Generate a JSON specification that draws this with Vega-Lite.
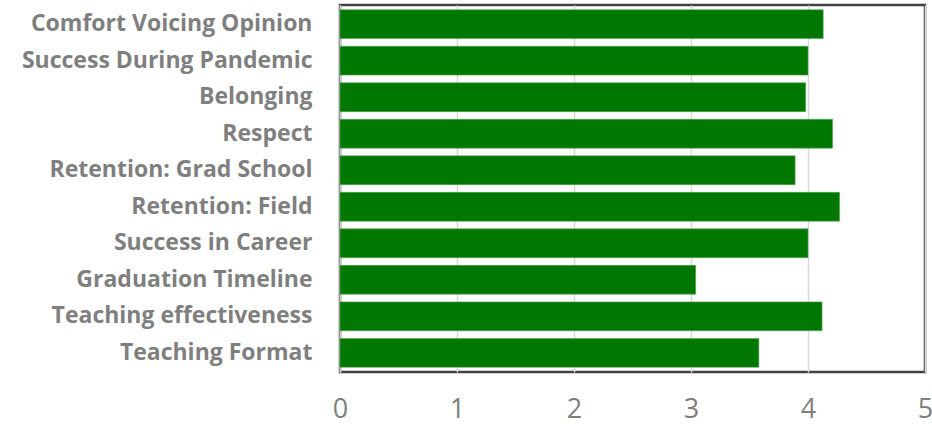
{
  "$schema": "https://vega.github.io/schema/vega-lite/v6.json",
  "autosize": {"type": "none"},
  "width": 585,
  "height": 367,
  "padding": {"left": 340, "top": 5, "right": 7, "bottom": 55},
  "background": "white",
  "config": {
    "view": {"stroke": "#404040", "strokeWidth": 2.5},
    "font": "Open Sans"
  },
  "data": {
    "values": [
      {"item": "Comfort Voicing Opinion", "score": 4.13},
      {"item": "Success During Pandemic", "score": 4.0},
      {"item": "Belonging", "score": 3.98},
      {"item": "Respect", "score": 4.21},
      {"item": "Retention: Grad School", "score": 3.89},
      {"item": "Retention: Field", "score": 4.27},
      {"item": "Success in Career", "score": 4.0},
      {"item": "Graduation Timeline", "score": 3.04},
      {"item": "Teaching effectiveness", "score": 4.12},
      {"item": "Teaching Format", "score": 3.58}
    ]
  },
  "mark": {"type": "bar", "color": "#007700", "stroke": "#5aa65a", "strokeWidth": 0.6},
  "encoding": {
    "y": {
      "field": "item",
      "type": "nominal",
      "sort": null,
      "scale": {"paddingInner": 0.21, "paddingOuter": 0.13},
      "axis": {
        "title": null,
        "ticks": false,
        "domain": true,
        "domainColor": "#c8c8c8",
        "domainWidth": 2,
        "labelFont": "Open Sans",
        "labelFontWeight": "bold",
        "labelFontSize": 23,
        "labelColor": "#7f7f7f",
        "labelPadding": 28,
        "labelLimit": 400
      }
    },
    "x": {
      "field": "score",
      "type": "quantitative",
      "scale": {"domain": [0, 5], "nice": false},
      "axis": {
        "title": null,
        "values": [0, 1, 2, 3, 4, 5],
        "ticks": false,
        "domain": false,
        "grid": true,
        "gridColor": "#d9d9d9",
        "gridWidth": 1.5,
        "labelFont": "Open Sans",
        "labelFontSize": 27,
        "labelColor": "#7f7f7f",
        "labelPadding": 24,
        "labelFlush": false
      }
    }
  }
}
